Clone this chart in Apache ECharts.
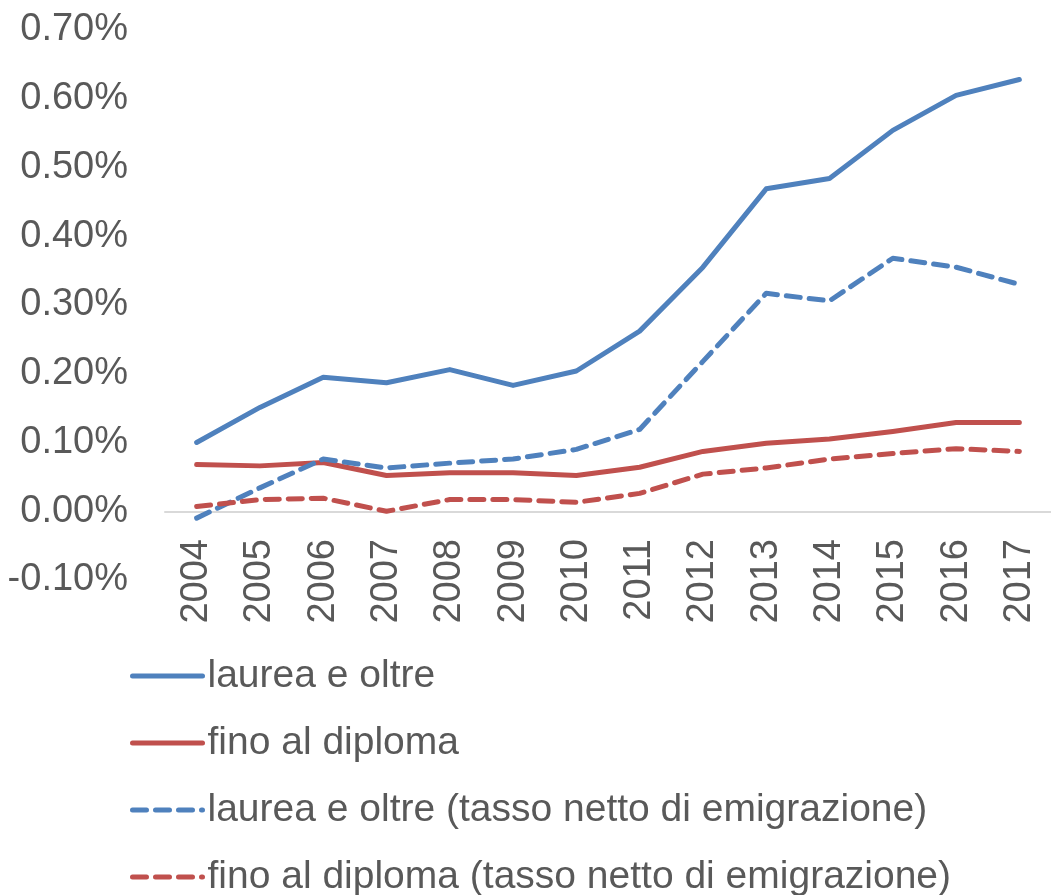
<!DOCTYPE html>
<html>
<head>
    <meta charset="UTF-8">
    <title>laurea e oltre</title>
    <style type="text/css">
        html, body { margin: 0; padding: 0; background: #fff; }
        #main { width: 1051px; height: 895px; }
    </style>
</head>
<body>
<div id="main"></div>
<script src="https://cdn.jsdelivr.net/npm/echarts@6/dist/echarts.min.js"></script>
<script>
    // anni
    var years = ['2004', '2005', '2006', '2007', '2008', '2009', '2010',
                 '2011', '2012', '2013', '2014', '2015', '2016', '2017'];
    // valori in %
    var laurea = [0.100, 0.151, 0.195, 0.187, 0.206, 0.183, 0.204, 0.262, 0.355, 0.469, 0.484, 0.554, 0.605, 0.628];
    var diploma = [0.068, 0.066, 0.071, 0.052, 0.056, 0.056, 0.052, 0.064, 0.087, 0.099, 0.105, 0.116, 0.129, 0.129];
    var laureaNetto = [-0.010, 0.034, 0.076, 0.063, 0.070, 0.076, 0.090, 0.119, 0.218, 0.317, 0.306, 0.368, 0.355, 0.330];
    var diplomaNetto = [0.007, 0.017, 0.019, 0.000, 0.017, 0.017, 0.013, 0.026, 0.054, 0.063, 0.076, 0.084, 0.091, 0.087];
    var names = ['laurea e oltre', 'fino al diploma',
                 'laurea e oltre (tasso netto di emigrazione)',
                 'fino al diploma (tasso netto di emigrazione)'];

    var blue = '#4F81BD', red = '#C0504D', grey = '#595959';
    var font = 'Liberation Sans';

    function linea(nome, dati, colore, tratteggio) {
        return {
            name: nome,
            type: 'line',
            data: dati,
            symbol: 'none',
            showSymbol: false,
            lineStyle: {
                color: colore,
                width: 5,
                type: tratteggio ? [14, 9] : 'solid',
                cap: 'round',
                join: 'round'
            },
            itemStyle: { color: colore }
        };
    }

    var myChart = echarts.init(document.getElementById('main'));
    var option = {
        animation: false,
        backgroundColor: '#fff',
        grid: { left: 165, right: 0, top: 30, bottom: 315, containLabel: false },
        legend: {
            orient: 'vertical',
            left: 130,
            top: 656,
            padding: 0,
            height: 260,
            itemWidth: 70,
            itemHeight: 10,
            itemGap: 27,
            data: names,
            itemStyle: { opacity: 0 },
            lineStyle: { width: 5, cap: 'round' },
            textStyle: { color: grey, fontSize: 39, fontFamily: font, lineHeight: 40 }
        },
        xAxis: {
            type: 'category',
            data: years,
            boundaryGap: true,
            axisLine: { onZero: true, lineStyle: { color: '#d9d9d9', width: 2 } },
            axisTick: { show: false },
            axisLabel: {
                rotate: 90,
                margin: -41,
                color: grey,
                fontSize: 38,
                fontFamily: font
            },
            splitLine: { show: false }
        },
        yAxis: {
            type: 'value',
            min: -0.1,
            max: 0.7,
            interval: 0.1,
            axisLine: { show: false },
            axisTick: { show: false },
            splitLine: { show: false },
            axisLabel: {
                margin: 37,
                color: grey,
                fontSize: 38,
                fontFamily: font,
                formatter: function (v) { return v.toFixed(2) + '%'; }
            }
        },
        series: [
            linea(names[0], laurea, blue, false),
            linea(names[1], diploma, red, false),
            linea(names[2], laureaNetto, blue, true),
            linea(names[3], diplomaNetto, red, true)
        ]
    };
    myChart.setOption(option);
</script>
</body>
</html>
